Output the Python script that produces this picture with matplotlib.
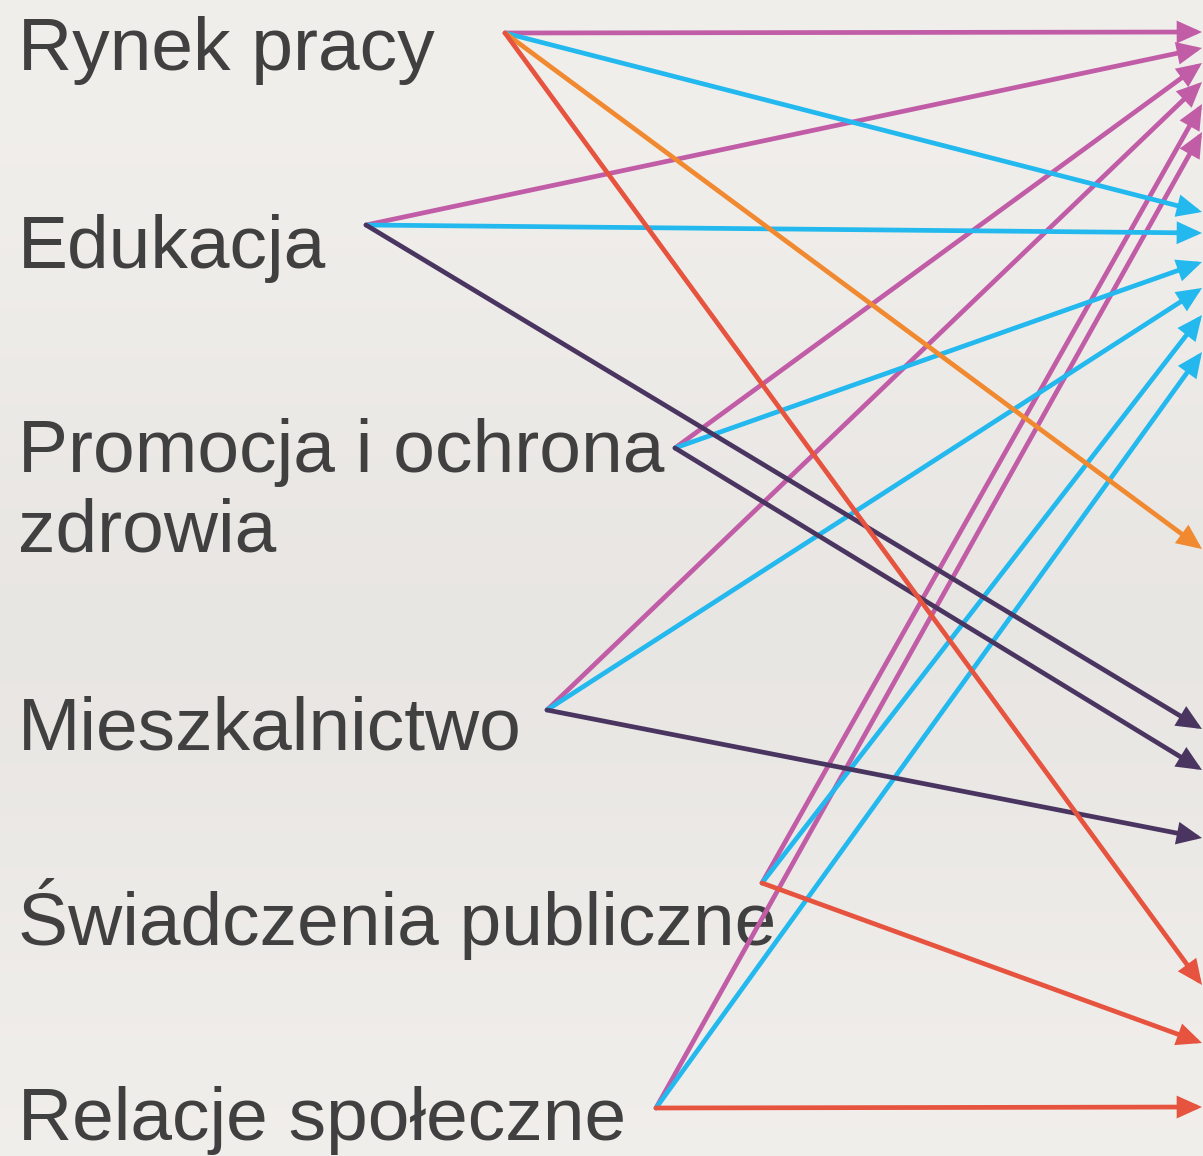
import matplotlib
matplotlib.use("Agg")
import matplotlib.pyplot as plt
import numpy as np
from matplotlib.patches import FancyArrowPatch
from matplotlib import font_manager

W, H = 1203, 1156

categories = ["Rynek pracy", "Edukacja", "Promocja i ochrona\nzdrowia",
              "Mieszkalnictwo", "Świadczenia publiczne", "Relacje społeczne"]
label_baseline = [70, 268, 472, 750, 945, 1140]
source_x = [505, 366, 675, 547, 762, 656]
source_y = [33, 225, 448, 710, 883, 1108]

# links: (source index, colour group, target y on the right edge)
link_source = [0, 1, 2, 3, 4, 5,
               0, 1, 2, 3, 4, 5,
               0,
               1, 2, 3,
               0, 4, 5]
link_group = ["magenta"] * 6 + ["cyan"] * 6 + ["orange"] + ["purple"] * 3 + ["red"] * 3
link_target_y = [32, 48, 63, 82, 104, 132,
                 212, 233, 262, 288, 315, 352,
                 549,
                 729, 770, 838,
                 985, 1043, 1107]

colors = {"magenta": "#C15CA6", "cyan": "#23B9EE", "orange": "#F0892F",
          "purple": "#4A3561", "red": "#E6533F"}

fig = plt.figure(figsize=(W / 100, H / 100), dpi=100)
ax = fig.add_axes([0, 0, 1, 1])
ax.set_xlim(0, W)
ax.set_ylim(H, 0)
ax.axis("off")

# paper-like background
yy = np.linspace(0, 1, 200)[:, None]
light = np.array([0.945, 0.937, 0.925])
dark = np.array([0.905, 0.895, 0.882])
t = np.clip(np.exp(-((yy - 0.55) ** 2) / 0.08) * 0.8, 0, 1)
bg = light[None, None, :] * (1 - t[..., None]) + dark[None, None, :] * t[..., None]
bg = np.broadcast_to(bg, (200, 200, 3))
ax.imshow(bg, extent=[0, W, H, 0], aspect="auto", zorder=0)

names = {f.name for f in font_manager.fontManager.ttflist}
fam = "Liberation Sans" if "Liberation Sans" in names else "DejaVu Sans"

for lab, yb in zip(categories, label_baseline):
    lines = lab.split("\n")
    for i, ln in enumerate(lines):
        ax.text(18, yb + i * 80, ln, fontsize=54, family=[fam, "DejaVu Sans"],
                color="#404040", va="baseline", ha="left", zorder=1)

for s, g, ty in zip(link_source, link_group, link_target_y):
    arr = FancyArrowPatch((source_x[s], source_y[s]), (1202, ty),
                          arrowstyle="-|>,head_length=0.62,head_width=0.28",
                          mutation_scale=20, lw=3.4, color=colors[g],
                          shrinkA=0, shrinkB=0, zorder=2, joinstyle="miter")
    ax.add_patch(arr)

fig.savefig("out.png", dpi=100)
